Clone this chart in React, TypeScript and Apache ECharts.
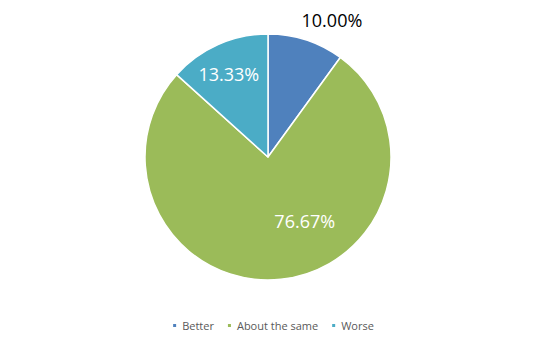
import React, { useEffect, useRef } from "react";
import * as echarts from "echarts";

const categories = ["Better", "About the same", "Worse"];
const values = [10.0, 76.67, 13.33];
const colors = ["#4F81BD", "#9BBB59", "#4BACC6"];

const labelShift: Record<number, [number, number]> = {
  0: [44, -76],
  1: [30, 0],
  2: [-13, -24],
};

export default function App() {
  const ref = useRef<HTMLDivElement>(null);
  useEffect(() => {
    if (!ref.current) return;
    const chart = echarts.init(ref.current, undefined, { renderer: "svg" });
    chart.setOption({
      animation: false,
      backgroundColor: "#ffffff",
      color: colors,
      legend: {
        bottom: 7,
        left: "center",
        icon: "rect",
        itemWidth: 5,
        itemHeight: 5,
        itemGap: 12,
        textStyle: { color: "#595959", fontSize: 11, fontFamily: "Open Sans" },
        data: categories,
      },
      series: [
        {
          type: "pie",
          center: [268, 157],
          radius: 123,
          startAngle: 90,
          clockwise: true,
          itemStyle: { borderColor: "#ffffff", borderWidth: 1.5 },
          label: {
            show: true,
            position: "inside",
            formatter: (p: any) => p.value.toFixed(2) + "%",
            fontSize: 18,
            fontFamily: "Open Sans",
            color: "#ffffff",
          },
          labelLine: { show: false },
          emphasis: { disabled: true },
          labelLayout: (p: any) => {
            const s = labelShift[p.dataIndex] || [0, 0];
            return { dx: s[0], dy: s[1] };
          },
          data: categories.map((c, i) => ({
            name: c,
            value: values[i],
            label: i === 0 ? { color: "#000000" } : undefined,
          })),
        },
      ],
    });
    return () => chart.dispose();
  }, []);
  return <div ref={ref} style={{ width: 545, height: 343, margin: -8 }} />;
}
